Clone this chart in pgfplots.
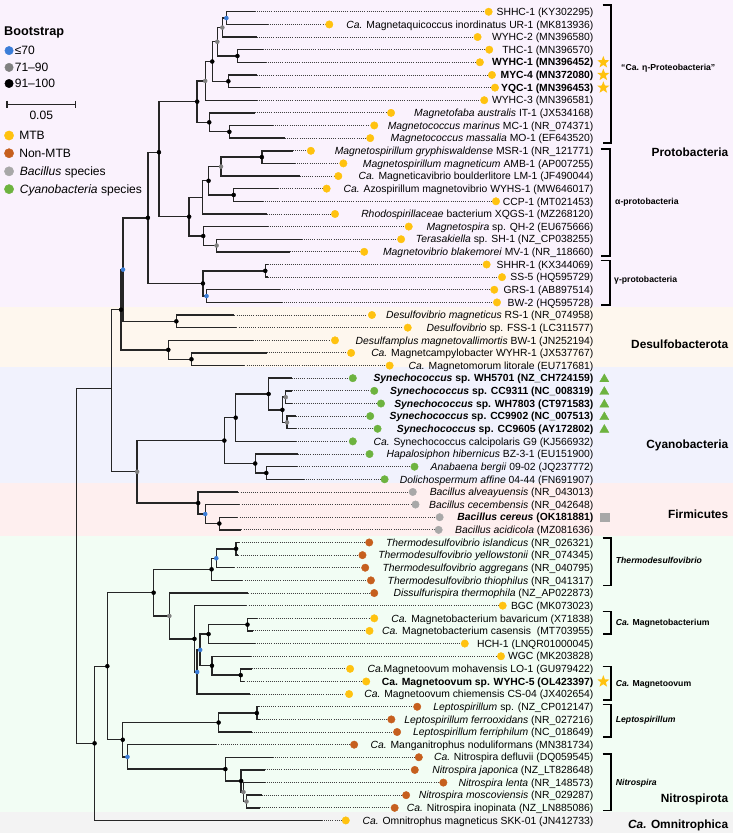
\documentclass[border=0pt]{standalone}
\usepackage{fontspec}
\setmainfont{Liberation Sans}
\usepackage{pgfplots}
\pgfplotsset{compat=1.18}
\definecolor{blueN}{HTML}{3B7DD8}
\definecolor{grayN}{HTML}{808080}
\definecolor{mtb}{HTML}{FFC20F}
\definecolor{nonmtb}{HTML}{C65F1E}
\definecolor{bac}{HTML}{A8A8A8}
\definecolor{cyb}{HTML}{6DB33F}
\definecolor{bgP}{HTML}{FAF2FD}
\definecolor{bgD}{HTML}{FEF7EE}
\definecolor{bgC}{HTML}{F1F2FD}
\definecolor{bgF}{HTML}{FEEFEF}
\definecolor{bgN}{HTML}{F2FDF4}
\definecolor{bgO}{HTML}{F3F3F3}
\definecolor{treec}{HTML}{262626}
\pgfdeclareplotmark{fstar}{%
  \pgfpathmoveto{\pgfpointpolar{90}{\pgfplotmarksize}}%
  \pgfpathlineto{\pgfpointpolar{126}{0.42\pgfplotmarksize}}%
  \pgfpathlineto{\pgfpointpolar{162}{\pgfplotmarksize}}%
  \pgfpathlineto{\pgfpointpolar{198}{0.42\pgfplotmarksize}}%
  \pgfpathlineto{\pgfpointpolar{234}{\pgfplotmarksize}}%
  \pgfpathlineto{\pgfpointpolar{270}{0.42\pgfplotmarksize}}%
  \pgfpathlineto{\pgfpointpolar{306}{\pgfplotmarksize}}%
  \pgfpathlineto{\pgfpointpolar{342}{0.42\pgfplotmarksize}}%
  \pgfpathlineto{\pgfpointpolar{18}{\pgfplotmarksize}}%
  \pgfpathlineto{\pgfpointpolar{54}{0.42\pgfplotmarksize}}%
  \pgfpathclose\pgfusepathqfill}
\newcommand{\tipfont}{\fontsize{10.3}{12}\selectfont}
\newcommand{\legfont}{\fontsize{12}{14}\selectfont}
\newcommand{\grpfont}{\fontsize{8.6}{10}\selectfont\bfseries}
\newcommand{\phyfont}{\fontsize{11.8}{14}\selectfont\bfseries}
\newcommand{\tip}[2]{\node[anchor=base east,inner sep=0pt,font=\tipfont,yshift=-3.7pt] at (axis cs:592,#1) {#2};}
\newcommand{\grp}[3]{\node[anchor=base west,inner sep=0pt,font=\grpfont,yshift=-3.1pt] at (axis cs:#1,#2) {#3};}
\newcommand{\phy}[2]{\node[anchor=base east,inner sep=0pt,font=\phyfont,yshift=-4.2pt] at (axis cs:726,#1) {#2};}
\newcommand{\leg}[3]{\node[anchor=base west,inner sep=0pt,font=\legfont,yshift=-4.3pt] at (axis cs:#1,#2) {#3};}
\begin{document}
\begin{tikzpicture}
\begin{axis}[
  width=733pt, height=833pt, scale only axis,
  xmin=0, xmax=733, ymin=0, ymax=833, y dir=reverse,
  hide axis, clip=false, unbounded coords=jump]
% background bands
\addplot[fill=bgP, draw=none] coordinates {(2,2)(731,2)(731,306.7)(2,306.7)};
\addplot[fill=bgD, draw=none] coordinates {(2,306.7)(731,306.7)(731,366.5)(2,366.5)};
\addplot[fill=bgC, draw=none] coordinates {(2,366.5)(731,366.5)(731,481.7)(2,481.7)};
\addplot[fill=bgF, draw=none] coordinates {(2,481.7)(731,481.7)(731,534.3)(2,534.3)};
\addplot[fill=bgN, draw=none] coordinates {(2,534.3)(731,534.3)(731,809.3)(2,809.3)};
\addplot[fill=bgO, draw=none] coordinates {(2,809.3)(731,809.3)(731,830)(2,830)};
% dotted leaf extensions
\addplot[draw=black!75, line width=0.9pt, dash pattern=on 0.9pt off 1.2pt, mark=none] coordinates {
(255,13.7)(483.2,13.7)(nan,nan)
(268,26.3)(324.8,26.3)(nan,nan)
(257,38.8)(472.2,38.8)(nan,nan)
(263,51.4)(483.8,51.4)(nan,nan)
(266,63.9)(474.5,63.9)(nan,nan)
(257,76.5)(486.5,76.5)(nan,nan)
(260,89.1)(489.5,89.1)(nan,nan)
(257,101.6)(478.8,101.6)(nan,nan)
(255,114.2)(386.2,114.2)(nan,nan)
(273,126.7)(369.5,126.7)(nan,nan)
(285,139.3)(365.5,139.3)(nan,nan)
(293,151.9)(306.5,151.9)(nan,nan)
(295,164.4)(338.8,164.4)(nan,nan)
(300,177.0)(333.8,177.0)(nan,nan)
(278,189.5)(322.2,189.5)(nan,nan)
(263,202.1)(490.5,202.1)(nan,nan)
(267,214.7)(330.5,214.7)(nan,nan)
(268,227.2)(403.8,227.2)(nan,nan)
(302,239.8)(396.2,239.8)(nan,nan)
(290,252.3)(359.5,252.3)(nan,nan)
(268,264.9)(481.2,264.9)(nan,nan)
(268,277.5)(496.5,277.5)(nan,nan)
(280,290.0)(488.8,290.0)(nan,nan)
(282,302.6)(491.5,302.6)(nan,nan)
(235,315.1)(367.2,315.1)(nan,nan)
(237,327.7)(402.8,327.7)(nan,nan)
(253,340.3)(330.5,340.3)(nan,nan)
(267,352.8)(346.5,352.8)(nan,nan)
(245,365.4)(384.8,365.4)(nan,nan)
(292,377.9)(348.2,377.9)(nan,nan)
(292,390.5)(369.5,390.5)(nan,nan)
(292,403.1)(376.2,403.1)(nan,nan)
(296,415.6)(365.5,415.6)(nan,nan)
(296,428.2)(372.8,428.2)(nan,nan)
(296,440.7)(348.2,440.7)(nan,nan)
(298,453.3)(364.8,453.3)(nan,nan)
(297,465.9)(409.5,465.9)(nan,nan)
(304,478.4)(379.8,478.4)(nan,nan)
(239,491.0)(407.8,491.0)(nan,nan)
(240,503.5)(410.5,503.5)(nan,nan)
(238,516.1)(434.5,516.1)(nan,nan)
(242,528.7)(433.5,528.7)(nan,nan)
(240,541.2)(364.5,541.2)(nan,nan)
(239,553.8)(357.8,553.8)(nan,nan)
(235,566.3)(360.5,566.3)(nan,nan)
(243,578.9)(366.2,578.9)(nan,nan)
(249,591.5)(369.5,591.5)(nan,nan)
(247,604.0)(497.2,604.0)(nan,nan)
(257,616.6)(369.5,616.6)(nan,nan)
(253,629.1)(364.8,629.1)(nan,nan)
(255,641.7)(459.5,641.7)(nan,nan)
(251,654.3)(495.5,654.3)(nan,nan)
(252,666.8)(345.5,666.8)(nan,nan)
(245,679.4)(361.5,679.4)(nan,nan)
(250,691.9)(344.5,691.9)(nan,nan)
(259,704.5)(412.2,704.5)(nan,nan)
(260,717.1)(386.5,717.1)(nan,nan)
(252,729.6)(392.2,729.6)(nan,nan)
(217,742.2)(349.5,742.2)(nan,nan)
(273,754.7)(413.8,754.7)(nan,nan)
(265,767.3)(409.8,767.3)(nan,nan)
(265,779.9)(438.2,779.9)(nan,nan)
(262,792.4)(401.2,792.4)(nan,nan)
(260,805.0)(389.8,805.0)(nan,nan)
(322,817.5)(341.2,817.5)
};
% tree branches
\addplot[draw=treec, line width=1.4pt, mark=none, line join=miter] coordinates {
(255,13.7)(227,13.7)(227,26.3)(268,26.3)(nan,nan)
(227,20.0)(223,20.0)(223,38.8)(257,38.8)(nan,nan)
(263,51.4)(238,51.4)(238,63.9)(266,63.9)(nan,nan)
(223,29.4)(218,29.4)(218,57.65)(238,57.65)(nan,nan)
(257,76.5)(229,76.5)(229,89.1)(260,89.1)(nan,nan)
(218,43.5)(213,43.5)(213,82.8)(229,82.8)(nan,nan)
(213,63.15)(206,63.15)(206,101.6)(257,101.6)(nan,nan)
(273,126.7)(230,126.7)(230,139.3)(285,139.3)(nan,nan)
(255,114.2)(210,114.2)(210,133.0)(230,133.0)(nan,nan)
(206,82.4)(198,82.4)(198,123.6)(210,123.6)(nan,nan)
(293,151.9)(262.3,151.9)(262.3,164.4)(295,164.4)(nan,nan)
(262.3,158.15)(221.7,158.15)(221.7,177.0)(300,177.0)(nan,nan)
(278,189.5)(234.3,189.5)(234.3,202.1)(263,202.1)(nan,nan)
(221.7,167.6)(209.3,167.6)(209.3,195.8)(234.3,195.8)(nan,nan)
(209.3,181.7)(203.3,181.7)(203.3,214.7)(267,214.7)(nan,nan)
(302,239.8)(217.3,239.8)(217.3,252.3)(290,252.3)(nan,nan)
(268,227.2)(204,227.2)(204,246.05)(217.3,246.05)(nan,nan)
(203.3,198.2)(190,198.2)(190,236.6)(204,236.6)(nan,nan)
(198,103.0)(160,103.0)(160,217.4)(190,217.4)(nan,nan)
(268,264.9)(265.7,264.9)(265.7,277.5)(268,277.5)(nan,nan)
(280,290.0)(207.3,290.0)(207.3,302.6)(282,302.6)(nan,nan)
(265.7,271.2)(203.7,271.2)(203.7,296.3)(207.3,296.3)(nan,nan)
(160,153.3)(149,153.3)(149,283.75)(203.7,283.75)(nan,nan)
(235,315.1)(177.3,315.1)(177.3,327.7)(237,327.7)(nan,nan)
(149,218.5)(124.3,218.5)(124.3,321.4)(177.3,321.4)(nan,nan)
(267,352.8)(192.3,352.8)(192.3,365.4)(245,365.4)(nan,nan)
(253,340.3)(169.3,340.3)(169.3,359.1)(192.3,359.1)(nan,nan)
(124.3,270)(122.3,270)(122.3,349.7)(169.3,349.7)(nan,nan)
(292,390.5)(286,390.5)(286,403.1)(292,403.1)(nan,nan)
(296,415.6)(287.3,415.6)(287.3,428.2)(296,428.2)(nan,nan)
(286,396.8)(282.7,396.8)(282.7,421.9)(287.3,421.9)(nan,nan)
(292,377.9)(269,377.9)(269,409.35)(282.7,409.35)(nan,nan)
(269,393.6)(236.3,393.6)(236.3,440.7)(296,440.7)(nan,nan)
(297,465.9)(266.7,465.9)(266.7,478.4)(304,478.4)(nan,nan)
(298,453.3)(255.7,453.3)(255.7,472.15)(266.7,472.15)(nan,nan)
(236.3,417.15)(225,417.15)(225,462.7)(255.7,462.7)(nan,nan)
(238,516.1)(220,516.1)(220,528.7)(242,528.7)(nan,nan)
(240,503.5)(206,503.5)(206,522.4)(220,522.4)(nan,nan)
(239,491.0)(199,491.0)(199,512.95)(206,512.95)(nan,nan)
(225,439.9)(138.3,439.9)(138.3,502.0)(199,502.0)(nan,nan)
(122.3,309.85)(112.7,309.85)(112.7,470.95)(138.3,470.95)(nan,nan)
(240,541.2)(236.7,541.2)(236.7,553.8)(239,553.8)(nan,nan)
(236.7,547.5)(217,547.5)(217,566.3)(235,566.3)(nan,nan)
(217,556.9)(212.3,556.9)(212.3,578.9)(243,578.9)(nan,nan)
(257,616.6)(248,616.6)(248,629.1)(253,629.1)(nan,nan)
(248,622.85)(209.3,622.85)(209.3,641.7)(255,641.7)(nan,nan)
(252,666.8)(241.3,666.8)(241.3,679.4)(245,679.4)(nan,nan)
(251,654.3)(212.7,654.3)(212.7,673.1)(241.3,673.1)(nan,nan)
(209.3,632.3)(201,632.3)(201,663.7)(212.7,663.7)(nan,nan)
(201,648.0)(198,648.0)(198,691.9)(250,691.9)(nan,nan)
(247,604.0)(195.3,604.0)(195.3,669.95)(198,669.95)(nan,nan)
(249,591.5)(170.3,591.5)(170.3,637.0)(195.3,637.0)(nan,nan)
(212.3,567.9)(154.7,567.9)(154.7,614.25)(170.3,614.25)(nan,nan)
(259,704.5)(257.3,704.5)(257.3,717.1)(260,717.1)(nan,nan)
(257.3,710.8)(219.3,710.8)(219.3,729.6)(252,729.6)(nan,nan)
(262,792.4)(247,792.4)(247,805.0)(260,805.0)(nan,nan)
(265,779.9)(244,779.9)(244,798.7)(247,798.7)(nan,nan)
(265,767.3)(241.7,767.3)(241.7,789.3)(244,789.3)(nan,nan)
(273,754.7)(226,754.7)(226,778.3)(241.7,778.3)(nan,nan)
(217,742.2)(128.7,742.2)(128.7,766.5)(226,766.5)(nan,nan)
(219.3,720.2)(124,720.2)(124,754.35)(128.7,754.35)(nan,nan)
(154.7,591.1)(108.7,591.1)(108.7,737.3)(124,737.3)(nan,nan)
(108.7,664.2)(96,664.2)(96,817.5)(322,817.5)(nan,nan)
(112.7,388)(78.3,388)(78.3,740.85)(96,740.85)
};
% node support dots
\addplot[only marks, mark=*, mark size=2pt, color=black] coordinates {
(238,57.65)(229,82.8)(213,63.15)(230,133.0)(210,123.6)(198,103.0)(262.3,158.15)(234.3,195.8)(209.3,181.7)(204,236.6)(190,217.4)(160,153.3)(265.7,271.2)(203.7,283.75)(149,218.5)(177.3,321.4)(192.3,359.1)(169.3,349.7)(122.3,309.85)(282.7,409.35)(269,393.6)(236.3,417.15)(266.7,472.15)(255.7,462.7)(225,439.9)(220,522.4)(199,502.0)(236.7,547.5)(212.3,567.9)(248,622.85)(209.3,632.3)(241.3,673.1)(212.7,663.7)(195.3,637.0)(154.7,591.1)(257.3,710.8)(219.3,720.2)(241.7,778.3)(226,766.5)(124,737.3)(108.7,664.2)(96,740.85)};
\addplot[only marks, mark=*, mark size=2pt, color=grayN] coordinates {
(223,29.4)(218,43.5)(206,82.4)(221.7,167.6)(217.3,246.05)(286,396.8)(287.3,421.9)(138.3,470.95)(170.3,614.25)(247,798.7)(244,789.3)};
\addplot[only marks, mark=*, mark size=2pt, color=blueN] coordinates {
(227,20.0)(207.3,296.3)(124.3,270)(206,512.95)(217,556.9)(201,648.0)(198,669.95)(128.7,754.35)};
% leaf dots
\addplot[only marks, mark=*, mark size=3.7pt, color=mtb] coordinates {
(487.7,13.7)(329.3,26.3)(476.7,38.8)(488.3,51.4)(479,63.9)(491,76.5)(494,89.1)(483.3,101.6)(390.7,114.2)(374,126.7)(370,139.3)(311,151.9)(343.3,164.4)(338.3,177.0)(326.7,189.5)(495,202.1)(335,214.7)(408.3,227.2)(400.7,239.8)(364,252.3)(485.7,264.9)(501,277.5)(493.3,290.0)(496,302.6)(371.7,315.1)(407.3,327.7)(335,340.3)(351,352.8)(389.3,365.4)
(501.7,604.0)(374,616.6)(369.3,629.1)(464,641.7)(500,654.3)(350,666.8)(366,679.4)(349,691.9)(345.7,817.5)};
\addplot[only marks, mark=*, mark size=3.7pt, color=cyb] coordinates {
(352.7,377.9)(374,390.5)(380.7,403.1)(370,415.6)(377.3,428.2)(352.7,440.7)(369.3,453.3)(414,465.9)(384.3,478.4)};
\addplot[only marks, mark=*, mark size=3.7pt, color=bac] coordinates {
(412.3,491.0)(415,503.5)(439,516.1)(438,528.7)};
\addplot[only marks, mark=*, mark size=3.7pt, color=nonmtb] coordinates {
(369,541.2)(362.3,553.8)(365,566.3)(370.7,578.9)(374,591.5)(416.7,704.5)(391,717.1)(396.7,729.6)(354,742.2)(418.3,754.7)(414.3,767.3)(442.7,779.9)(405.7,792.4)(394.3,805.0)};
% right-hand symbols
\addplot[only marks, mark=fstar, mark size=6.3pt, color=mtb] coordinates {(601.7,63.9)(601.7,76.5)(601.7,89.1)(601.7,679.4)};
\addplot[only marks, mark=triangle*, mark size=5.2pt, color=cyb] coordinates {(602.7,378.9)(602.7,391.5)(602.7,404.1)(602.7,416.6)(602.7,429.2)};
\addplot[only marks, mark=square*, mark size=4.3pt, color=bac] coordinates {(603.3,516.1)};
% brackets
\addplot[draw=black, line width=1.6pt, mark=none] coordinates {
(601,6.7)(609.3,6.7)(609.3,144)(601,144)(nan,nan)
(599,150)(608.5,150)(608.5,256.7)(599,256.7)(nan,nan)
(599,261)(608.5,261)(608.5,305)(599,305)(nan,nan)
(601,536.7)(609.5,536.7)(609.5,584)(601,584)(nan,nan)
(601,610)(609.5,610)(609.5,632.3)(601,632.3)(nan,nan)
(601,664.3)(609.5,664.3)(609.5,697.7)(601,697.7)(nan,nan)
(601,702.3)(609.5,702.3)(609.5,734.3)(601,734.3)(nan,nan)
(601,751.7)(609.5,751.7)(609.5,807.7)(601,807.7)
};
% legend markers
\addplot[only marks, mark=*, mark size=4.2pt, color=blueN] coordinates {(11,52.3)};
\addplot[only marks, mark=*, mark size=4.2pt, color=grayN] coordinates {(11,69)};
\addplot[only marks, mark=*, mark size=4.2pt, color=black] coordinates {(11,85)};
\addplot[only marks, mark=*, mark size=4.6pt, color=mtb] coordinates {(11,136.7)};
\addplot[only marks, mark=*, mark size=4.6pt, color=nonmtb] coordinates {(11,154.3)};
\addplot[only marks, mark=*, mark size=4.6pt, color=bac] coordinates {(11,172.3)};
\addplot[only marks, mark=*, mark size=4.6pt, color=cyb] coordinates {(11,190)};
\addplot[draw=black!85, line width=1.2pt, mark=none] coordinates {(9,102.3)(9,109.1)(nan,nan)(9,105.7)(77.3,105.7)(nan,nan)(77.3,102.3)(77.3,109.1)};
% legend text
\node[anchor=base west,inner sep=0pt,font=\fontsize{12.6}{14}\selectfont\bfseries,yshift=-4.5pt] at (axis cs:6,33) {Bootstrap};
\leg{16.5}{52.3}{≤70}
\leg{16.5}{69}{71–90}
\leg{16.5}{85}{91–100}
\node[anchor=base,inner sep=0pt,font=\legfont,yshift=-4.3pt] at (axis cs:43,116.7) {0.05};
\leg{21}{136.7}{MTB}
\leg{21}{154.3}{Non-MTB}
\leg{21.5}{172.3}{\textit{Bacillus} species}
\leg{21.5}{190}{\textit{Cyanobacteria} species}
% tip labels
\tip{13.7}{SHHC-1 (KY302295)}
\tip{26.3}{\textit{Ca.} Magnetaquicoccus inordinatus UR-1 (MK813936)}
\tip{38.8}{WYHC-2 (MN396580)}
\tip{51.4}{THC-1 (MN396570)}
\tip{63.9}{\textbf{WYHC-1 (MN396452)}}
\tip{76.5}{\textbf{MYC-4 (MN372080)}}
\tip{89.1}{\textbf{YQC-1 (MN396453)}}
\tip{101.6}{WYHC-3 (MN396581)}
\tip{114.2}{\textit{Magnetofaba australis} IT-1 (JX534168)}
\tip{126.7}{\textit{Magnetococcus marinus} MC-1 (NR\_074371)}
\tip{139.3}{\textit{Magnetococcus massalia} MO-1 (EF643520)}
\tip{151.9}{\textit{Magnetospirillum gryphiswaldense} MSR-1 (NR\_121771)}
\tip{164.4}{\textit{Magnetospirillum magneticum} AMB-1 (AP007255)}
\tip{177.0}{\textit{Ca.} Magneticavibrio boulderlitore LM-1 (JF490044)}
\tip{189.5}{\textit{Ca.} Azospirillum magnetovibrio WYHS-1 (MW646017)}
\tip{202.1}{CCP-1 (MT021453)}
\tip{214.7}{\textit{Rhodospirillaceae} bacterium XQGS-1 (MZ268120)}
\tip{227.2}{\textit{Magnetospira} sp. QH-2 (EU675666)}
\tip{239.8}{\textit{Terasakiella} sp. SH-1 (NZ\_CP038255)}
\tip{252.3}{\textit{Magnetovibrio blakemorei} MV-1 (NR\_118660)}
\tip{264.9}{SHHR-1 (KX344069)}
\tip{277.5}{SS-5 (HQ595729)}
\tip{290.0}{GRS-1 (AB897514)}
\tip{302.6}{BW-2 (HQ595728)}
\tip{315.1}{\textit{Desulfovibrio magneticus} RS-1 (NR\_074958)}
\tip{327.7}{\textit{Desulfovibrio} sp. FSS-1 (LC311577)}
\tip{340.3}{\textit{Desulfamplus magnetovallimortis} BW-1 (JN252194)}
\tip{352.8}{\textit{Ca.} Magnetcampylobacter WYHR-1 (JX537767)}
\tip{365.4}{\textit{Ca.} Magnetomorum litorale (EU717681)}
\tip{377.9}{\textbf{\textit{Synechococcus} sp. WH5701 (NZ\_CH724159)}}
\tip{390.5}{\textbf{\textit{Synechococcus} sp. CC9311 (NC\_008319)}}
\tip{403.1}{\textbf{\textit{Synechococcus} sp. WH7803 (CT971583)}}
\tip{415.6}{\textbf{\textit{Synechococcus} sp. CC9902 (NC\_007513)}}
\tip{428.2}{\textbf{\textit{Synechococcus} sp. CC9605 (AY172802)}}
\tip{440.7}{\textit{Ca.} Synechococcus calcipolaris G9 (KJ566932)}
\tip{453.3}{\textit{Hapalosiphon hibernicus} BZ-3-1 (EU151900)}
\tip{465.9}{\textit{Anabaena bergii} 09-02 (JQ237772)}
\tip{478.4}{\textit{Dolichospermum affine} 04-44 (FN691907)}
\tip{491.0}{\textit{Bacillus alveayuensis} (NR\_043013)}
\tip{503.5}{\textit{Bacillus cecembensis} (NR\_042648)}
\tip{516.1}{\textbf{\textit{Bacillus cereus} (OK181881)}}
\tip{528.7}{\textit{Bacillus acidicola} (MZ081636)}
\tip{541.2}{\textit{Thermodesulfovibrio islandicus} (NR\_026321)}
\tip{553.8}{\textit{Thermodesulfovibrio yellowstonii} (NR\_074345)}
\tip{566.3}{\textit{Thermodesulfovibrio aggregans} (NR\_040795)}
\tip{578.9}{\textit{Thermodesulfovibrio thiophilus} (NR\_041317)}
\tip{591.5}{\textit{Dissulfurispira thermophila} (NZ\_AP022873)}
\tip{604.0}{BGC (MK073023)}
\tip{616.6}{\textit{Ca.} Magnetobacterium bavaricum (X71838)}
\tip{629.1}{\textit{Ca.} Magnetobacterium casensis\ \ (MT703955)}
\tip{641.7}{HCH-1 (LNQR01000045)}
\tip{654.3}{WGC (MK203828)}
\tip{666.8}{\textit{Ca.}Magnetoovum mohavensis LO-1 (GU979422)}
\tip{679.4}{\textbf{Ca. Magnetoovum sp. WYHC-5 (OL423397)}}
\tip{691.9}{\textit{Ca.} Magnetoovum chiemensis CS-04 (JX402654)}
\tip{704.5}{\textit{Leptospirillum} sp. (NZ\_CP012147)}
\tip{717.1}{\textit{Leptospirillum ferrooxidans} (NR\_027216)}
\tip{729.6}{\textit{Leptospirillum ferriphilum} (NC\_018649)}
\tip{742.2}{\textit{Ca.} Manganitrophus noduliformans (MN381734)}
\tip{754.7}{\textit{Ca.} Nitrospira defluvii (DQ059545)}
\tip{767.3}{\textit{Nitrospira japonica} (NZ\_LT828648)}
\tip{779.9}{\textit{Nitrospira lenta} (NR\_148573)}
\tip{792.4}{\textit{Nitrospira moscoviensis} (NR\_029287)}
\tip{805.0}{\textit{Ca.} Nitrospira inopinata (NZ\_LN885086)}
\tip{817.5}{\textit{Ca.} Omnitrophus magneticus SKK-01 (JN412733)}
% group labels
\grp{619.3}{69}{“Ca. η-Proteobacteria”}
\grp{613.3}{202.3}{α-protobacteria}
\grp{612.3}{279.7}{γ-protobacteria}
\grp{614}{558.7}{\textit{Thermodesulfovibrio}}
\grp{614}{620.7}{\textit{Ca.} Magnetobacterium}
\grp{614}{681}{\textit{Ca.} Magnetoovum}
\grp{614}{717.3}{\textit{Leptospirillum}}
\grp{614}{779.3}{\textit{Nitrospira}}
% phylum labels
\phy{153}{Protobacteria}
\phy{344.3}{Desulfobacterota}
\phy{444}{Cyanobacteria}
\phy{512.7}{Firmicutes}
\phy{795.3}{Nitrospirota}
\phy{821.7}{\textit{Ca.} Omnitrophica}
\end{axis}
\end{tikzpicture}
\end{document}
